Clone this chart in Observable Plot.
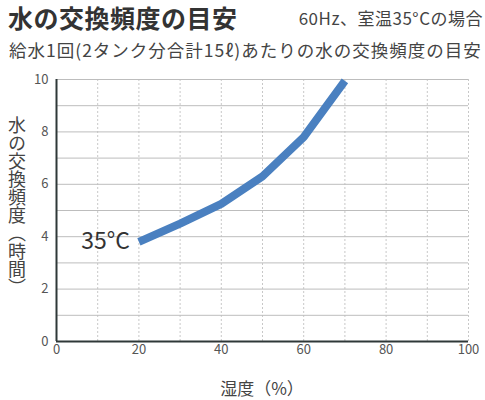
<!DOCTYPE html>
<html>
<head>
<meta charset="utf-8">
<script src="https://cdn.jsdelivr.net/npm/d3@7"></script>
<script src="https://cdn.jsdelivr.net/npm/@observablehq/plot@0.6"></script>
<style>
  html, body { margin: 0; padding: 0; background: #fff; }
  body { width: 485px; height: 400px; position: relative; overflow: hidden;
         font-family: "Noto Sans CJK JP", "Noto Sans", sans-serif; color: #333; }
  .abs { position: absolute; white-space: nowrap; z-index: 2; }
  #title { left: 8px; top: 1px; font-size: 25px; font-weight: bold; letter-spacing: 0.5px; line-height: 32px; }
  #cond { right: 2px; top: 6px; font-size: 17px; letter-spacing: 0.5px; line-height: 24px; color: #444; }
  #sub { left: 9px; top: 37px; font-size: 17.5px; letter-spacing: 1px; line-height: 26px; color: #444; }
  #ylab { left: 6px; top: 116px; font-size: 18px; writing-mode: vertical-rl; line-height: 22px; color: #444; }
  #xlab { left: 262px; top: 376px; transform: translateX(-50%); font-size: 17px; line-height: 24px; color: #444; }
  #chart { position: absolute; left: 0; top: 65px; z-index: 1; }
</style>
</head>
<body>
<div id="chart"></div>
<div id="title" class="abs"></div>
<div id="cond" class="abs"></div>
<div id="sub" class="abs"></div>
<div id="ylab" class="abs"></div>
<div id="xlab" class="abs"></div>
<script>
const titleText = "水の交換頻度の目安";
const condText = "60Hz、室温35°Cの場合";
const subText = "給水1回(2タンク分合計15ℓ)あたりの水の交換頻度の目安";
const yLabel = "水の交換頻度（時間）";
const xLabel = "湿度（%）";
const seriesLabel = "35°C";

const humidity = [20, 30, 40, 50, 60, 70];
const hours = [3.8, 4.5, 5.25, 6.3, 7.8, 9.95];

const xTicks = [0, 20, 40, 60, 80, 100];
const yTicks = [0, 2, 4, 6, 8, 10];
const xGrid = [10, 20, 30, 40, 50, 60, 70, 80, 90, 100];
const yGrid = [1, 2, 3, 4, 5, 6, 7, 8, 9, 10];

document.getElementById("title").textContent = titleText;
document.getElementById("cond").textContent = condText;
document.getElementById("sub").textContent = subText;
document.getElementById("ylab").textContent = yLabel;
document.getElementById("xlab").textContent = xLabel;

const data = humidity.map((h, i) => ({humidity: h, hours: hours[i]}));

const chart = Plot.plot({
  width: 485,
  height: 335,
  marginTop: 14,
  marginBottom: 59,
  marginLeft: 56,
  marginRight: 17,
  style: {fontFamily: '"Noto Sans CJK JP", "Noto Sans", sans-serif', fontSize: "13px", color: "#555", background: "transparent"},
  x: {domain: [0, 100], ticks: xTicks, tickSize: 0, tickPadding: 3, label: null},
  y: {domain: [0, 10], ticks: yTicks, tickSize: 0, tickPadding: 8, label: null},
  marks: [
    Plot.ruleX(xGrid, {stroke: "#c8c8c8", strokeDasharray: "2,2", strokeWidth: 1}),
    Plot.ruleY(yGrid, {stroke: "#bdbdbd", strokeWidth: 1}),
    Plot.line(data, {x: "humidity", y: "hours", stroke: "#4a80c0", strokeWidth: 8, strokeLinecap: "butt", strokeLinejoin: "round"}),
    Plot.ruleX([0], {stroke: "#2f3838", strokeWidth: 2}),
    Plot.ruleY([0], {stroke: "#2f3838", strokeWidth: 2}),
    Plot.text([data[0]], {x: "humidity", y: "hours", text: () => seriesLabel, textAnchor: "end", dx: -9, fontSize: 23, fill: "#333"})
  ]
});
document.getElementById("chart").appendChild(chart);
</script>
</body>
</html>
